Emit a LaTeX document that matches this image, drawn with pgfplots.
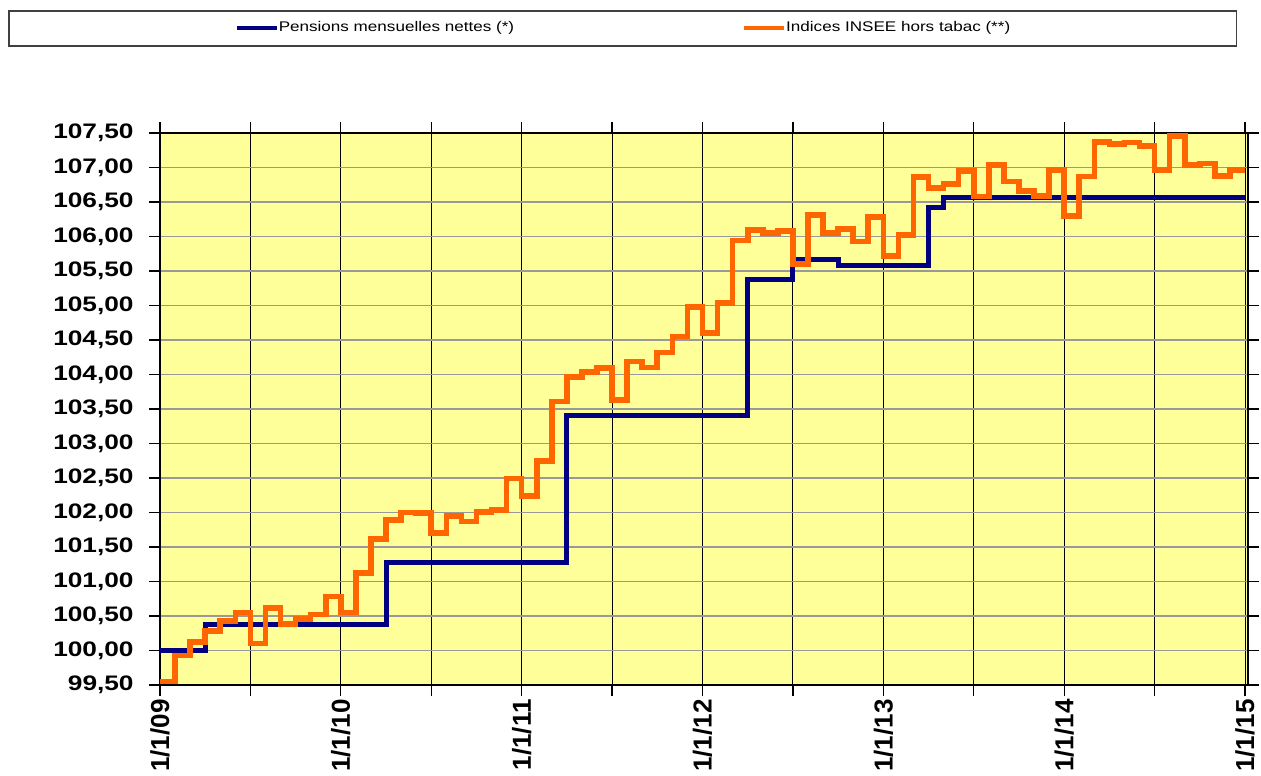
\documentclass[border=0pt]{standalone}
\usepackage{fontspec}
\setmainfont{Liberation Sans}
\usepackage{pgfplots}
\pgfplotsset{compat=1.18}
\newfontfamily\legfont[FakeStretch=1.22]{Liberation Sans}
\newfontfamily\ytfont[FakeStretch=1.25]{Liberation Sans}
\newfontfamily\xtfont{Liberation Sans}
\definecolor{navyline}{HTML}{000080}
\definecolor{orangeline}{HTML}{FF6600}
\definecolor{plotbg}{HTML}{FFFF99}
\begin{document}
\begin{tikzpicture}
\path[use as bounding box, clip] (0,0) rectangle (630.5pt,387.5pt);
\begin{axis}[
  at={(80pt,45pt)}, anchor=south west,
  scale only axis, width=544pt, height=276pt,
  xmin=0, xmax=72.2, ymin=99.5, ymax=107.5,
  axis background/.style={fill=plotbg},
  xtick={0,6,12,18,24,30,36,42,48,54,60,66,72},
  xticklabels={1/1/09,,1/1/10,,1/1/11,,1/1/12,,1/1/13,,1/1/14,,1/1/15},
  ytick={99.5,100,100.5,101,101.5,102,102.5,103,103.5,104,104.5,105,105.5,106,106.5,107,107.5},
  grid=major,
  x grid style={black, line width=0.5pt},
  y grid style={black!40, line width=0.8pt},
  tick align=outside, major tick length=5.5pt,
  tick style={black, line width=0.6pt},
  axis line style={black, line width=0.8pt},
  /pgf/number format/fixed, /pgf/number format/fixed zerofill,
  /pgf/number format/precision=2, /pgf/number format/use comma,
  /pgf/number format/assume math mode=true,
  yticklabel shift=7.5pt,
  yticklabel style={font=\ytfont\bfseries\fontsize{10.5}{12}\selectfont,
    anchor=east, inner sep=0pt},
  xticklabel style={font=\xtfont\bfseries\fontsize{13}{14}\selectfont,
    rotate=90, anchor=east, inner ysep=0pt, inner xsep=1.5pt},
  legend style={at={(-0.1397,1.2228)}, anchor=north west,
    draw=black!75, line width=0.75pt, inner xsep=113pt, inner ysep=3.5pt,
    legend columns=2, font=\legfont\fontsize{7}{8}\selectfont,
    nodes={inner xsep=0pt, inner ysep=2pt},
    /tikz/every even column/.append style={column sep=114pt}},
  legend cell align=left,
  legend image code/.code={\draw[#1, line width=2pt] (0pt,0pt) -- (20pt,0pt);},
]
\addplot[const plot, navyline, line width=2.5pt] coordinates {
(0,100.00) (3,100.38) (15,101.27) (27,103.40) (39,105.38) (42,105.67)
(45,105.58) (51,106.42) (52,106.57) (72,106.57)};
\addlegendentry{Pensions mensuelles nettes (*)}
\addplot[const plot, orangeline, line width=2.8pt] coordinates {
(0,99.55) (1,99.93) (2,100.12) (3,100.28) (4,100.43) (5,100.55)
(6,100.10) (7,100.62) (8,100.38) (9,100.46) (10,100.52) (11,100.78)
(12,100.55) (13,101.12) (14,101.62) (15,101.89) (16,102.00) (17,101.99)
(18,101.70) (19,101.95) (20,101.87) (21,102.01) (22,102.04) (23,102.49)
(24,102.24) (25,102.75) (26,103.61) (27,103.96) (28,104.04) (29,104.09)
(30,103.63) (31,104.19) (32,104.10) (33,104.32) (34,104.55) (35,104.98)
(36,104.60) (37,105.04) (38,105.94) (39,106.09) (40,106.05) (41,106.08)
(42,105.60) (43,106.31) (44,106.05) (45,106.11) (46,105.93) (47,106.28)
(48,105.72) (49,106.02) (50,106.86) (51,106.70) (52,106.76) (53,106.95)
(54,106.58) (55,107.04) (56,106.80) (57,106.66) (58,106.59) (59,106.96)
(60,106.30) (61,106.87) (62,107.37) (63,107.34) (64,107.36) (65,107.31)
(66,106.96) (67,107.46) (68,107.04) (69,107.06) (70,106.88) (71,106.96)
(72,106.96)};
\addlegendentry{Indices INSEE hors tabac (**)}
\end{axis}
\end{tikzpicture}
\end{document}
